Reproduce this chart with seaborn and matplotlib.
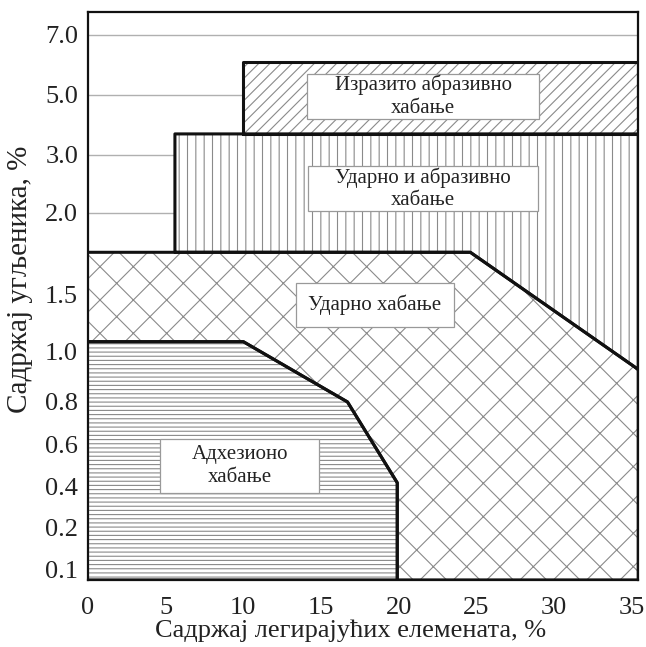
import numpy as np
import matplotlib
matplotlib.use("Agg")
import matplotlib.pyplot as plt
from matplotlib.path import Path
from matplotlib.transforms import Affine2D
import seaborn as sns

# y axis of the original is not linear: tick values and where they sit
Y_TICKS = [0.1, 0.2, 0.4, 0.6, 0.8, 1.0, 1.5, 2.0, 3.0, 5.0, 7.0]
Y_TICK_LABELS = ["0.1", "0.2", "0.4", "0.6", "0.8", "1.0", "1.5", "2.0", "3.0", "5.0", "7.0"]
SCALE_VALS = [0.076] + Y_TICKS + [7.77]
SCALE_POS = [0, 10, 52, 93, 135, 178, 228, 285, 367, 425, 485, 545, 568]

X_TICKS = [0, 5, 10, 15, 20, 25, 30, 35]
X_MAX = 35.4
Y_MIN, Y_MAX = SCALE_VALS[0], SCALE_VALS[-1]

# region outlines (alloy %, carbon %)
severe_x = [10, 10, X_MAX, X_MAX, 10]
severe_y = [3.7, 6.1, 6.1, 3.7, 3.7]

impact_abr_x = [5.6, 5.6, X_MAX, X_MAX, 24.6, 5.6]
impact_abr_y = [1.76, 3.7, 3.7, 0.93, 1.76, 1.76]

impact_x = [0, 24.6, X_MAX, X_MAX, 19.9, 19.9, 16.7, 10, 0]
impact_y = [1.76, 1.76, 0.93, Y_MIN, Y_MIN, 0.42, 0.8, 1.09, 1.09]

adhes_x = [0, 10, 16.7, 19.9, 19.9, 0]
adhes_y = [1.09, 1.09, 0.8, 0.42, Y_MIN, Y_MIN]

labels = ["Изразито абразивно\nхабање", "Ударно и абразивно\nхабање",
          "Ударно хабање", "Адхезионо\nхабање"]
label_x = [21.56, 21.56, 18.47, 9.78]
label_y = [4.95, 2.42, 1.41, 0.5]
# box padding (x, y) in font sizes
label_pad = [(1.3, 0.06), (1.3, 0.06), (0.6, 0.55), (1.5, 0.3)]


def fwd(v):
    return np.interp(v, SCALE_VALS, SCALE_POS)


def inv(p):
    return np.interp(p, SCALE_POS, SCALE_VALS)


def make_box(padx, pady):
    def box(x0, y0, width, height, mutation_size):
        px, py = padx * mutation_size, pady * mutation_size
        return Path.unit_rectangle().transformed(
            Affine2D().scale(width + 2 * px, height + 2 * py).translate(x0 - px, y0 - py))
    return box


sns.set_theme(style="white")
plt.rcParams["font.family"] = ["Liberation Serif", "DejaVu Serif"]
plt.rcParams["hatch.linewidth"] = 0.8

fig = plt.figure(figsize=(6.46, 6.47), dpi=100)
ax = fig.add_axes([0.136, 0.1036, 0.852, 0.878])
ax.set_yscale("function", functions=(fwd, inv))
ax.set_xlim(0, X_MAX)
ax.set_ylim(Y_MIN, Y_MAX)

for t in Y_TICKS:
    ax.axhline(t, color="#b0b0b0", lw=1.0, zorder=0)

hatch_col = "#8a8a8a"
ax.fill(severe_x, severe_y, facecolor="white", edgecolor=hatch_col, hatch="///", lw=0, zorder=1)
ax.fill(impact_abr_x, impact_abr_y, facecolor="white", edgecolor=hatch_col, hatch="||", lw=0, zorder=1)
ax.fill(impact_x, impact_y, facecolor="white", edgecolor=hatch_col, hatch="x", lw=0, zorder=1)
ax.fill(adhes_x, adhes_y, facecolor="white", edgecolor=hatch_col, hatch="----", lw=0, zorder=1)

for xs, ys in [(severe_x, severe_y), (impact_abr_x, impact_abr_y),
               (impact_x, impact_y), (adhes_x, adhes_y)]:
    sns.lineplot(x=xs, y=ys, sort=False, estimator=None, color="#111111",
                 lw=2.2, ax=ax, zorder=3)

for txt, tx, ty, (pdx, pdy) in zip(labels, label_x, label_y, label_pad):
    ax.text(tx, ty, txt, ha="center", va="center", fontsize=15, color="#222222",
            linespacing=1.25, zorder=4,
            bbox=dict(boxstyle=make_box(pdx, pdy), fc="white", ec="#999999", lw=0.9))

ax.set_xticks(X_TICKS)
ax.set_xticklabels([str(v) for v in X_TICKS])
ax.set_yticks(Y_TICKS)
ax.set_yticklabels(Y_TICK_LABELS)
ax.tick_params(axis="both", length=0, labelsize=19, labelcolor="#222222")
ax.tick_params(axis="y", pad=7)
ax.tick_params(axis="x", pad=12)
for s in ax.spines.values():
    s.set_color("#111111")
    s.set_linewidth(1.6)
    s.set_zorder(5)

ax.set_xlabel("Садржај легирајућих елемената, %", fontsize=19, color="#222222")
ax.set_ylabel("Садржај угљеника, %", fontsize=21, color="#222222")
ax.xaxis.set_label_coords(0.478, -0.07)
ax.yaxis.set_label_coords(-0.10, 0.53)

fig.savefig("out.png", dpi=100)
